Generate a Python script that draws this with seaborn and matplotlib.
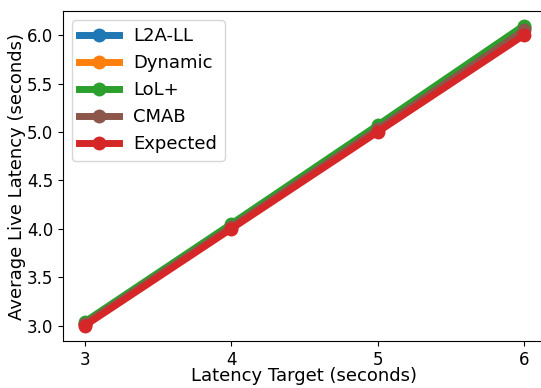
import matplotlib
matplotlib.use("Agg")
import matplotlib.pyplot as plt
import seaborn as sns
import pandas as pd

targets = [3, 4, 5, 6]
l2a_ll = [3.02, 4.03, 5.04, 6.07]
dynamic = [3.02, 4.03, 5.05, 6.08]
lol_plus = [3.04, 4.05, 5.07, 6.10]
cmab = [3.02, 4.02, 5.03, 6.05]
expected = [3.0, 4.0, 5.0, 6.0]

series = [("L2A-LL", l2a_ll, "#1f77b4"), ("Dynamic", dynamic, "#ff7f0e"),
          ("LoL+", lol_plus, "#2ca02c"), ("CMAB", cmab, "#8c564b"),
          ("Expected", expected, "#d62728")]

plt.rcParams['font.family'] = ['DejaVu Sans']
fig, ax = plt.subplots(figsize=(5.41, 3.88), dpi=100)
for name, vals, col in series:
    df = pd.DataFrame({"x": targets, "y": vals})
    sns.lineplot(data=df, x="x", y="y", ax=ax, color=col, linewidth=5,
                 marker="o", markersize=10, markeredgewidth=0, label=name)

ax.set_xlim(2.85, 6.15)
ax.set_ylim(2.84, 6.25)
ax.set_xticks([3, 4, 5, 6])
ax.set_yticks([3.0, 3.5, 4.0, 4.5, 5.0, 5.5, 6.0])
ax.tick_params(labelsize=12)
ax.set_xlabel("Latency Target (seconds)", fontsize=13, labelpad=-1)
ax.set_ylabel("Average Live Latency (seconds)", fontsize=13, labelpad=1)
ax.legend(fontsize=13, loc="upper left", handlelength=2.2)
fig.subplots_adjust(left=0.1165, right=1.009, top=0.9716, bottom=0.121)
fig.savefig("out.png", dpi=100)
